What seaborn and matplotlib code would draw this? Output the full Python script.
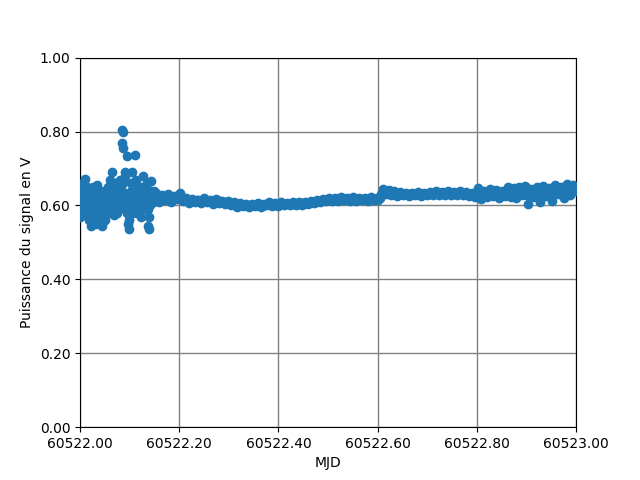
import numpy as np
import pandas as pd
import matplotlib
matplotlib.use("Agg")
import matplotlib.pyplot as plt
import seaborn as sns
from matplotlib.ticker import FormatStrFormatter

# --- données (MJD - 60522, puissance en V) ---
mjd_base = 60522.0

# début de nuit, signal très bruité
t_debut = [0.000, 0.002, 0.004, 0.006, 0.008, 0.010, 0.012, 0.014, 0.016, 0.018,
           0.020, 0.022, 0.024, 0.026, 0.028, 0.030, 0.032, 0.034, 0.036, 0.038,
           0.040, 0.042, 0.044, 0.046, 0.048, 0.050, 0.052, 0.054, 0.056, 0.058,
           0.060, 0.062, 0.064, 0.066, 0.068, 0.070, 0.072, 0.074, 0.076, 0.078,
           0.080, 0.084, 0.086, 0.084, 0.087, 0.090, 0.094, 0.092, 0.096, 0.098,
           0.100, 0.102, 0.104, 0.106, 0.110, 0.108, 0.112, 0.114, 0.116, 0.118,
           0.120, 0.122, 0.124, 0.126, 0.128, 0.130, 0.132, 0.134, 0.136, 0.138,
           0.140, 0.142, 0.144, 0.146, 0.148, 0.150]
p_debut = [0.570, 0.640, 0.600, 0.660, 0.580, 0.672, 0.620, 0.590, 0.630, 0.560,
           0.610, 0.545, 0.600, 0.650, 0.580, 0.640, 0.550, 0.655, 0.600, 0.630,
           0.570, 0.620, 0.545, 0.600, 0.640, 0.560, 0.620, 0.590, 0.650, 0.600,
           0.670, 0.580, 0.690, 0.620, 0.660, 0.600, 0.640, 0.580, 0.630, 0.590,
           0.670, 0.805, 0.798, 0.769, 0.755, 0.690, 0.733, 0.620, 0.550, 0.535,
           0.600, 0.660, 0.690, 0.630, 0.737, 0.610, 0.670, 0.580, 0.640, 0.600,
           0.620, 0.570, 0.650, 0.600, 0.680, 0.610, 0.640, 0.590, 0.660, 0.545,
           0.535, 0.600, 0.665, 0.630, 0.610, 0.640]

t_debut_b = [0.001, 0.003, 0.005, 0.007, 0.009, 0.011, 0.013, 0.015, 0.017, 0.019,
             0.021, 0.023, 0.025, 0.027, 0.029, 0.031, 0.033, 0.035, 0.037, 0.039,
             0.041, 0.043, 0.045, 0.047, 0.049, 0.051, 0.053, 0.055, 0.057, 0.059,
             0.061, 0.063, 0.065, 0.067, 0.069, 0.071, 0.073, 0.075, 0.077, 0.079,
             0.081, 0.083, 0.085, 0.087, 0.089, 0.091, 0.093, 0.095, 0.097, 0.099,
             0.101, 0.103, 0.105, 0.107, 0.109, 0.111, 0.113, 0.115, 0.117, 0.119,
             0.121, 0.123, 0.125, 0.127, 0.129, 0.131, 0.133, 0.135, 0.137, 0.139,
             0.141, 0.143, 0.145, 0.147, 0.149]
p_debut_b = [0.600, 0.620, 0.580, 0.640, 0.610, 0.630, 0.575, 0.650, 0.600, 0.585,
             0.630, 0.570, 0.625, 0.610, 0.595, 0.560, 0.615, 0.640, 0.585, 0.605,
             0.640, 0.590, 0.565, 0.625, 0.610, 0.580, 0.635, 0.600, 0.620, 0.640,
             0.600, 0.650, 0.610, 0.640, 0.575, 0.625, 0.660, 0.600, 0.615, 0.650,
             0.620, 0.600, 0.640, 0.660, 0.610, 0.680, 0.600, 0.580, 0.625, 0.560,
             0.610, 0.640, 0.620, 0.580, 0.660, 0.600, 0.630, 0.650, 0.615, 0.580,
             0.630, 0.610, 0.600, 0.640, 0.620, 0.650, 0.610, 0.630, 0.590, 0.570,
             0.620, 0.640, 0.610, 0.625, 0.630]

# suite de la nuit, signal stable
t_suite = [0.154, 0.160, 0.166, 0.172, 0.178, 0.184, 0.190, 0.196, 0.202, 0.208,
           0.214, 0.220, 0.226, 0.232, 0.238, 0.244, 0.250, 0.256, 0.262, 0.268,
           0.274, 0.280, 0.286, 0.292, 0.298, 0.304, 0.310, 0.316, 0.322, 0.328,
           0.334, 0.340, 0.346, 0.352, 0.358, 0.364, 0.370, 0.376, 0.382, 0.388,
           0.394, 0.400, 0.406, 0.412, 0.418, 0.424, 0.430, 0.436, 0.442, 0.448,
           0.454, 0.460, 0.466, 0.472, 0.478, 0.484, 0.490, 0.496, 0.502, 0.508,
           0.514, 0.520, 0.526, 0.532, 0.538, 0.544, 0.550, 0.556, 0.562, 0.568,
           0.574, 0.580, 0.586, 0.592, 0.598, 0.604, 0.610, 0.616, 0.622, 0.628,
           0.634, 0.640, 0.646, 0.652, 0.658, 0.664, 0.670, 0.676, 0.682, 0.688,
           0.694, 0.700, 0.706, 0.712, 0.718, 0.724, 0.730, 0.736, 0.742, 0.748,
           0.754, 0.760, 0.766, 0.772, 0.778, 0.784, 0.790, 0.796, 0.802, 0.808,
           0.814, 0.820, 0.826, 0.832, 0.838, 0.844, 0.850, 0.856, 0.862, 0.868,
           0.874, 0.880, 0.886, 0.892, 0.898, 0.904, 0.910, 0.916, 0.922, 0.928,
           0.934, 0.940, 0.946, 0.952, 0.958, 0.964, 0.970, 0.976, 0.982, 0.988,
           0.994, 1.000]
p_suite = [0.635, 0.610, 0.628, 0.615, 0.632, 0.608, 0.625, 0.618, 0.634, 0.612,
           0.620, 0.607, 0.618, 0.610, 0.616, 0.606, 0.619, 0.609, 0.615, 0.605,
           0.617, 0.607, 0.613, 0.604, 0.611, 0.600, 0.608, 0.597, 0.606, 0.599,
           0.604, 0.596, 0.603, 0.598, 0.606, 0.597, 0.605, 0.600, 0.609, 0.599,
           0.606, 0.599, 0.608, 0.601, 0.607, 0.600, 0.610, 0.602, 0.608, 0.601,
           0.610, 0.603, 0.612, 0.606, 0.615, 0.608, 0.618, 0.611, 0.620, 0.612,
           0.619, 0.613, 0.622, 0.614, 0.620, 0.612, 0.623, 0.613, 0.621, 0.614,
           0.619, 0.612, 0.623, 0.614, 0.621, 0.620, 0.645, 0.630, 0.642, 0.627,
           0.638, 0.626, 0.636, 0.629, 0.635, 0.625, 0.634, 0.628, 0.636, 0.626,
           0.635, 0.627, 0.637, 0.628, 0.638, 0.627, 0.636, 0.629, 0.639, 0.628,
           0.637, 0.627, 0.638, 0.629, 0.636, 0.626, 0.635, 0.622, 0.648, 0.618,
           0.640, 0.622, 0.645, 0.625, 0.641, 0.620, 0.638, 0.626, 0.649, 0.624,
           0.646, 0.620, 0.650, 0.628, 0.652, 0.605, 0.645, 0.623, 0.650, 0.610,
           0.652, 0.626, 0.648, 0.612, 0.655, 0.630, 0.650, 0.620, 0.657, 0.628,
           0.654, 0.640]

t_suite_b = [0.157, 0.163, 0.169, 0.175, 0.181, 0.187, 0.193, 0.199, 0.205, 0.211,
             0.217, 0.223, 0.229, 0.235, 0.241, 0.247, 0.253, 0.259, 0.265, 0.271,
             0.277, 0.283, 0.289, 0.295, 0.301, 0.307, 0.313, 0.319, 0.325, 0.331,
             0.337, 0.343, 0.349, 0.355, 0.361, 0.367, 0.373, 0.379, 0.385, 0.391,
             0.397, 0.403, 0.409, 0.415, 0.421, 0.427, 0.433, 0.439, 0.445, 0.451,
             0.457, 0.463, 0.469, 0.475, 0.481, 0.487, 0.493, 0.499, 0.505, 0.511,
             0.517, 0.523, 0.529, 0.535, 0.541, 0.547, 0.553, 0.559, 0.565, 0.571,
             0.577, 0.583, 0.589, 0.595, 0.601, 0.607, 0.613, 0.619, 0.625, 0.631,
             0.637, 0.643, 0.649, 0.655, 0.661, 0.667, 0.673, 0.679, 0.685, 0.691,
             0.697, 0.703, 0.709, 0.715, 0.721, 0.727, 0.733, 0.739, 0.745, 0.751,
             0.757, 0.763, 0.769, 0.775, 0.781, 0.787, 0.793, 0.799, 0.805, 0.811,
             0.817, 0.823, 0.829, 0.835, 0.841, 0.847, 0.853, 0.859, 0.865, 0.871,
             0.877, 0.883, 0.889, 0.895, 0.901, 0.907, 0.913, 0.919, 0.925, 0.931,
             0.937, 0.943, 0.949, 0.955, 0.961, 0.967, 0.973, 0.979, 0.985, 0.991,
             0.997]
p_suite_b = [0.621, 0.624, 0.620, 0.626, 0.619, 0.622, 0.620, 0.625, 0.621, 0.617,
             0.613, 0.615, 0.612, 0.614, 0.611, 0.613, 0.612, 0.611, 0.610, 0.611,
             0.610, 0.611, 0.608, 0.607, 0.605, 0.604, 0.602, 0.602, 0.601, 0.600,
             0.600, 0.599, 0.601, 0.600, 0.601, 0.601, 0.602, 0.603, 0.603, 0.603,
             0.602, 0.604, 0.603, 0.604, 0.603, 0.605, 0.605, 0.604, 0.605, 0.606,
             0.606, 0.608, 0.609, 0.610, 0.611, 0.613, 0.614, 0.615, 0.616, 0.616,
             0.616, 0.617, 0.618, 0.617, 0.617, 0.618, 0.618, 0.617, 0.618, 0.617,
             0.616, 0.618, 0.618, 0.617, 0.616, 0.632, 0.637, 0.636, 0.634, 0.633,
             0.632, 0.631, 0.632, 0.631, 0.630, 0.630, 0.631, 0.631, 0.631, 0.631,
             0.631, 0.632, 0.632, 0.633, 0.632, 0.632, 0.633, 0.634, 0.633, 0.633,
             0.632, 0.633, 0.633, 0.632, 0.631, 0.630, 0.629, 0.633, 0.634, 0.632,
             0.631, 0.634, 0.635, 0.633, 0.630, 0.631, 0.634, 0.637, 0.636, 0.633,
             0.634, 0.638, 0.640, 0.636, 0.629, 0.634, 0.636, 0.638, 0.633, 0.629,
             0.639, 0.637, 0.632, 0.636, 0.643, 0.640, 0.636, 0.640, 0.642, 0.641,
             0.646]

temps = t_debut + t_debut_b + t_suite + t_suite_b
puissance = p_debut + p_debut_b + p_suite + p_suite_b

df = pd.DataFrame({"MJD": mjd_base + np.array(temps), "P": puissance})

fig, ax = plt.subplots(figsize=(6.4, 4.8), dpi=100)
sns.scatterplot(data=df, x="MJD", y="P", ax=ax, s=36, color="C0",
                edgecolor="C0", linewidth=1, zorder=3)

ax.set_xlim(mjd_base, mjd_base + 1.0)
ax.set_ylim(0, 1)
ax.xaxis.set_major_formatter(FormatStrFormatter("%.2f"))
ax.yaxis.set_major_formatter(FormatStrFormatter("%.2f"))
ax.grid(True, color="gray", linewidth=1)
ax.set_axisbelow(True)
ax.set_xlabel("MJD")
ax.set_ylabel("Puissance du signal en V")

fig.savefig("out.png", dpi=100)
